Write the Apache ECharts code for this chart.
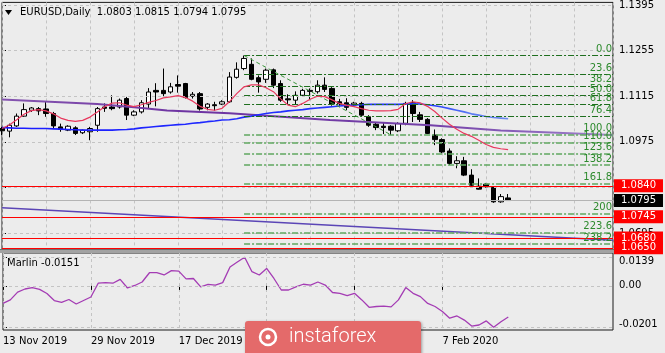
<!DOCTYPE html>
<html>
<head>
<meta charset="utf-8">
<title>EURUSD, Daily</title>
<script src="https://cdn.jsdelivr.net/npm/echarts@6/dist/echarts.min.js"></script>
<style>
  html, body { margin: 0; padding: 0; background: #ececec; }
  #chart { width: 665px; height: 353px; }
</style>
</head>
<body>
<div id="chart"></div>
<script>
// trading days shown on the chart
const dates = [
  '13 Nov 2019', '14 Nov 2019', '15 Nov 2019', '18 Nov 2019', '19 Nov 2019', '20 Nov 2019', '21 Nov 2019', '22 Nov 2019',
  '25 Nov 2019', '26 Nov 2019', '27 Nov 2019', '28 Nov 2019', '29 Nov 2019', '2 Dec 2019', '3 Dec 2019', '4 Dec 2019',
  '5 Dec 2019', '6 Dec 2019', '9 Dec 2019', '10 Dec 2019', '11 Dec 2019', '12 Dec 2019', '13 Dec 2019', '16 Dec 2019',
  '17 Dec 2019', '18 Dec 2019', '19 Dec 2019', '20 Dec 2019', '23 Dec 2019', '24 Dec 2019', '26 Dec 2019', '27 Dec 2019',
  '30 Dec 2019', '31 Dec 2019', '2 Jan 2020', '3 Jan 2020', '6 Jan 2020', '7 Jan 2020', '8 Jan 2020', '9 Jan 2020',
  '10 Jan 2020', '13 Jan 2020', '14 Jan 2020', '15 Jan 2020', '16 Jan 2020', '17 Jan 2020', '20 Jan 2020', '21 Jan 2020',
  '22 Jan 2020', '23 Jan 2020', '24 Jan 2020', '27 Jan 2020', '28 Jan 2020', '29 Jan 2020', '30 Jan 2020', '31 Jan 2020',
  '3 Feb 2020', '4 Feb 2020', '5 Feb 2020', '6 Feb 2020', '7 Feb 2020', '10 Feb 2020', '11 Feb 2020', '12 Feb 2020',
  '13 Feb 2020', '14 Feb 2020', '17 Feb 2020', '18 Feb 2020', '19 Feb 2020', '20 Feb 2020'
];

// [open, close, low, high]
const candles = [
  [1.1016, 1.1009, 1.0996, 1.1021], [1.1008, 1.1026, 1.0989, 1.1031], [1.1024, 1.1054, 1.1021, 1.1062],
  [1.1054, 1.1074, 1.1052, 1.1093], [1.1072, 1.1079, 1.1067, 1.1082], [1.1077, 1.1070, 1.1057, 1.1082],
  [1.1076, 1.1062, 1.1052, 1.1098], [1.1062, 1.1024, 1.1016, 1.1067], [1.1021, 1.1013, 1.1006, 1.1031],
  [1.1011, 1.1023, 1.1008, 1.1026], [1.1018, 1.1001, 1.0996, 1.1023], [1.1003, 1.1011, 1.0999, 1.1013],
  [1.1006, 1.1016, 1.0980, 1.1021], [1.1026, 1.1077, 1.1006, 1.1082], [1.1082, 1.1078, 1.1067, 1.1093],
  [1.1082, 1.1077, 1.1072, 1.1118], [1.1082, 1.1103, 1.1077, 1.1108], [1.1108, 1.1057, 1.1042, 1.1113],
  [1.1057, 1.1067, 1.1054, 1.1072], [1.1067, 1.1095, 1.1062, 1.1103], [1.1091, 1.1128, 1.1078, 1.1140],
  [1.1133, 1.1128, 1.1084, 1.1155], [1.1133, 1.1123, 1.1115, 1.1200], [1.1128, 1.1144, 1.1123, 1.1156],
  [1.1151, 1.1146, 1.1126, 1.1179], [1.1154, 1.1111, 1.1108, 1.1156], [1.1115, 1.1121, 1.1108, 1.1128],
  [1.1123, 1.1076, 1.1071, 1.1128], [1.1081, 1.1091, 1.1072, 1.1094], [1.1089, 1.1086, 1.1071, 1.1098],
  [1.1091, 1.1098, 1.1088, 1.1103], [1.1098, 1.1174, 1.1095, 1.1189], [1.1173, 1.1198, 1.1169, 1.1219],
  [1.1200, 1.1231, 1.1195, 1.1240], [1.1213, 1.1167, 1.1164, 1.1231], [1.1172, 1.1159, 1.1126, 1.1179],
  [1.1167, 1.1195, 1.1156, 1.1200], [1.1196, 1.1149, 1.1140, 1.1200], [1.1154, 1.1103, 1.1098, 1.1164],
  [1.1107, 1.1104, 1.1089, 1.1121], [1.1103, 1.1118, 1.1091, 1.1130], [1.1118, 1.1133, 1.1114, 1.1138],
  [1.1133, 1.1130, 1.1103, 1.1139], [1.1129, 1.1149, 1.1123, 1.1164], [1.1149, 1.1136, 1.1128, 1.1173],
  [1.1139, 1.1091, 1.1086, 1.1143], [1.1098, 1.1092, 1.1084, 1.1107], [1.1095, 1.1081, 1.1072, 1.1109],
  [1.1088, 1.1094, 1.1082, 1.1098], [1.1093, 1.1057, 1.1052, 1.1098], [1.1052, 1.1026, 1.1021, 1.1057],
  [1.1029, 1.1019, 1.1011, 1.1035], [1.1023, 1.1019, 1.0999, 1.1036], [1.1023, 1.1011, 1.0996, 1.1026],
  [1.1009, 1.1031, 1.1005, 1.1035], [1.1032, 1.1093, 1.1026, 1.1098], [1.1095, 1.1062, 1.1036, 1.1103],
  [1.1058, 1.1044, 1.1036, 1.1067], [1.1044, 1.1001, 1.0999, 1.1048], [1.0996, 1.0982, 1.0965, 1.1013],
  [1.0982, 1.0944, 1.0940, 1.0986], [1.0947, 1.0909, 1.0904, 1.0955], [1.0909, 1.0917, 1.0894, 1.0931],
  [1.0917, 1.0873, 1.0870, 1.0929], [1.0873, 1.0842, 1.0839, 1.0891], [1.0839, 1.0830, 1.0829, 1.0863],
  [1.0845, 1.0837, 1.0835, 1.0849], [1.0835, 1.0791, 1.0788, 1.0839], [1.0791, 1.0807, 1.0788, 1.0815],
  [1.0803, 1.0795, 1.0794, 1.0815]
];

// moving averages
const maRed = [
  1.1016, 1.1027, 1.1043, 1.1060, 1.1071, 1.1074, 1.1070, 1.1061, 1.1048, 1.1041,
  1.1038, 1.1041, 1.1051, 1.1067, 1.1083, 1.1094, 1.1095, 1.1088, 1.1083, 1.1089,
  1.1096, 1.1102, 1.1110, 1.1113, 1.1117, 1.1111, 1.1100, 1.1084, 1.1075, 1.1072,
  1.1078, 1.1098, 1.1123, 1.1144, 1.1150, 1.1150, 1.1141, 1.1129, 1.1107, 1.1088,
  1.1083, 1.1093, 1.1106, 1.1115, 1.1114, 1.1104, 1.1093, 1.1087, 1.1083, 1.1077,
  1.1072, 1.1070, 1.1070, 1.1071, 1.1075, 1.1092, 1.1098, 1.1095, 1.1084, 1.1068,
  1.1048, 1.1029, 1.1014, 1.1001, 1.0992, 1.0980, 1.0967, 1.0958, 1.0954, 1.0951
];
const maBlue = [
  1.1019, 1.1018, 1.1017, 1.1017, 1.1016, 1.1016, 1.1016, 1.1015, 1.1014, 1.1013,
  1.1012, 1.1011, 1.1011, 1.1011, 1.1011, 1.1011, 1.1012, 1.1013, 1.1015, 1.1018,
  1.1020, 1.1022, 1.1024, 1.1026, 1.1028, 1.1029, 1.1032, 1.1034, 1.1037, 1.1039,
  1.1042, 1.1043, 1.1046, 1.1051, 1.1054, 1.1058, 1.1062, 1.1065, 1.1067, 1.1070,
  1.1072, 1.1074, 1.1077, 1.1079, 1.1081, 1.1083, 1.1085, 1.1087, 1.1088, 1.1089,
  1.1090, 1.1090, 1.1090, 1.1090, 1.1090, 1.1091, 1.1092, 1.1091, 1.1089, 1.1086,
  1.1082, 1.1077, 1.1072, 1.1067, 1.1061, 1.1057, 1.1053, 1.1050, 1.1048, 1.1046
];

// trend lines, [bar, price]
const purpleLine = [[0, 1.1105], [13, 1.1091], [18, 1.1081], [22.5, 1.1071], [31, 1.1063],
  [44.7, 1.1042], [58.4, 1.1026], [68, 1.1010], [83.3, 1.0996]];
const channelLine = [[0, 1.0773], [83.3, 1.0673]];

// Marlin oscillator
const marlin = [
  -0.0085, -0.0068, -0.0030, -0.0015, -0.0008, -0.0017, -0.0037, -0.0071, -0.0080, -0.0066,
  -0.0088, -0.0071, -0.0054, 0.0013, 0.0016, 0.0013, 0.0032, -0.0010, 0.0002, 0.0019,
  0.0064, 0.0064, 0.0053, 0.0074, 0.0072, 0.0034, 0.0036, -0.0005, 0.0007, 0.0004,
  0.0016, 0.0092, 0.0116, 0.0139, 0.0069, 0.0053, 0.0085, 0.0036, -0.0020, -0.0020,
  -0.0005, 0.0008, 0.0004, 0.0019, 0.0004, -0.0032, -0.0036, -0.0047, -0.0036, -0.0068,
  -0.0104, -0.0100, -0.0098, -0.0102, -0.0068, -0.0008, -0.0036, -0.0052, -0.0085, -0.0100,
  -0.0124, -0.0157, -0.0146, -0.0166, -0.0195, -0.0190, -0.0170, -0.0201, -0.0174, -0.0151
];

// fibonacci grid
const fibHigh = 1.1240;
const fibLow = 1.0997;
const fibFrom = 33;
const fibTo = 53;
const fibLevels = [0, 23.6, 38.2, 50, 61.8, 76.4, 100, 110, 123.6, 138.2, 161.8, 200, 223.6, 238.2];
const fibLabels = ['0.0', '23.6', '38.2', '50.0', '61.8', '76.4', '100.0', '110.0', '123.6', '138.2', '161.8', '200', '223.6', '238.2'];

const priceTicks = [1.1395, 1.1255, 1.1115, 1.0975, 1.0835, 1.0695];
const marlinTicks = [0.0139, 0, -0.0201];
const dateTicks = [0, 12, 24, 36, 48, 60];
const redLevels = [1.0840, 1.0745, 1.0680, 1.0650];
const lastPrice = 1.0795;

const FONT = 'DejaVu Sans';
const X_MAX = 83.3;
const gridDash = { color: '#c4c4c4', type: [3, 3], width: 1 };

const chart = echarts.init(document.getElementById('chart'));

const last = candles[candles.length - 1];
const fibPrice = lvl => fibHigh - (fibHigh - fibLow) * lvl / 100;

// one helper series per horizontal level, tag drawn at the right end
function levelSeries(value, lineColor, tagColor, z) {
  return {
    type: 'line', xAxisIndex: 0, yAxisIndex: 0, data: [], z: z,
    markLine: {
      silent: true, symbol: ['none', 'none'], animation: false, precision: 6,
      lineStyle: { color: lineColor, width: 1, type: 'solid' },
      label: {
        show: true, position: 'end', distance: 1, formatter: value.toFixed(4),
        color: '#fff', backgroundColor: tagColor, padding: [2, 7, 1, 7],
        fontSize: 10, lineHeight: 10, fontFamily: FONT
      },
      data: [{ yAxis: value }]
    }
  };
}

const fibData = fibLevels.map((lvl, i) => {
  const p = fibPrice(lvl);
  const light = lvl >= 100;
  return [
    {
      coord: [fibFrom, p],
      lineStyle: { color: light ? '#5fa65f' : '#1e6e1e', width: light ? 1.6 : 1, type: [6, 2, 2, 2] },
      label: {
        show: true, position: 'insideEndTop', distance: 1, formatter: fibLabels[i],
        color: '#2d8a2d', fontSize: 10, fontFamily: FONT
      }
    },
    { coord: [X_MAX, p] }
  ];
});
fibData.push([
  { coord: [fibFrom, fibHigh], lineStyle: { color: '#3c963c', width: 1, type: [4, 3] }, label: { show: false } },
  { coord: [fibTo, fibLow] }
]);

const series = [
  {
    name: 'grid', type: 'line', xAxisIndex: 0, yAxisIndex: 0, data: [], z: 1,
    markLine: {
      silent: true, symbol: ['none', 'none'], animation: false, precision: 6,
      label: { show: false }, lineStyle: gridDash,
      data: priceTicks.map(v => ({ yAxis: v }))
    }
  },
  {
    name: 'grid2', type: 'line', xAxisIndex: 1, yAxisIndex: 1, data: [], z: 1,
    markLine: {
      silent: true, symbol: ['none', 'none'], animation: false, precision: 6,
      label: { show: false }, lineStyle: gridDash,
      data: marlinTicks.map(v => ({ yAxis: v }))
    }
  },
  {
    name: 'fibo', type: 'line', xAxisIndex: 0, yAxisIndex: 0, data: [], z: 2,
    markLine: { silent: true, symbol: ['none', 'none'], animation: false, precision: 6, data: fibData }
  },
  {
    name: 'candles', type: 'candlestick', xAxisIndex: 0, yAxisIndex: 0, z: 3,
    barWidth: 5,
    dimensions: ['idx', 'open', 'close', 'lowest', 'highest'],
    encode: { x: 'idx', y: ['open', 'close', 'lowest', 'highest'] },
    data: candles.map((c, i) => [i, c[0], c[1], c[2], c[3]]),
    itemStyle: { color: '#ffffff', color0: '#000000', borderColor: '#000000', borderColor0: '#000000', borderWidth: 1 }
  },
  {
    name: 'purple', type: 'line', xAxisIndex: 0, yAxisIndex: 0, z: 4, showSymbol: false, silent: true,
    data: purpleLine,
    lineStyle: {
      width: 2,
      color: new echarts.graphic.LinearGradient(0, 0, 1, 0, [
        { offset: 0, color: '#8656b0' }, { offset: 0.3, color: '#6e34a2' },
        { offset: 0.7, color: '#7440a8' }, { offset: 1, color: '#a084cc' }
      ])
    }
  },
  {
    name: 'channel', type: 'line', xAxisIndex: 0, yAxisIndex: 0, z: 4, showSymbol: false, silent: true,
    data: channelLine,
    lineStyle: { width: 1.5, color: '#5b45b6' }
  },
  {
    name: 'ma slow', type: 'line', xAxisIndex: 0, yAxisIndex: 0, z: 4, showSymbol: false, silent: true,
    data: maBlue.map((v, i) => [i, v]),
    lineStyle: {
      width: 1.6,
      color: new echarts.graphic.LinearGradient(0, 0, 1, 0, [
        { offset: 0, color: '#1a1aff' }, { offset: 0.84, color: '#2438ff' },
        { offset: 0.92, color: '#5878f2' }, { offset: 1, color: '#6e8cee' }
      ])
    }
  },
  {
    name: 'ma fast', type: 'line', xAxisIndex: 0, yAxisIndex: 0, z: 5, showSymbol: false, silent: true,
    data: maRed.map((v, i) => [i, v]),
    lineStyle: { width: 1.2, color: '#e8385e' }
  },
  {
    name: 'Marlin', type: 'line', xAxisIndex: 1, yAxisIndex: 1, z: 4, showSymbol: false, silent: true,
    data: marlin.map((v, i) => [i, v]),
    lineStyle: { width: 1.3, color: '#a43cb4' }
  },
  levelSeries(lastPrice, '#b4b4b4', '#000000', 6)
].concat(redLevels.map((v, i) => levelSeries(v, '#ff0000', '#ff0000', 7 + i)));

const option = {
  animation: false,
  backgroundColor: '#ececec',
  textStyle: { fontFamily: FONT },
  grid: [
    { left: 2, top: 2, width: 611, height: 247, show: true, borderColor: '#1a1a1a', borderWidth: 1, backgroundColor: 'transparent' },
    { left: 2, top: 253, width: 611, height: 77, show: true, borderColor: '#1a1a1a', borderWidth: 1, backgroundColor: 'transparent' }
  ],
  xAxis: [
    {
      type: 'value', gridIndex: 0, min: 0, max: X_MAX, interval: 6,
      axisLine: { show: false }, axisTick: { show: false }, axisLabel: { show: false },
      splitLine: { show: true, lineStyle: gridDash }
    },
    {
      type: 'value', gridIndex: 1, min: 0, max: X_MAX, interval: 6,
      axisLine: { show: false },
      axisTick: { show: true, customValues: dateTicks, length: 4, lineStyle: { color: '#000' } },
      axisLabel: {
        customValues: dateTicks, formatter: v => dates[Math.round(v)] || '',
        align: 'left', margin: 6, color: '#000', fontSize: 10, fontFamily: FONT
      },
      splitLine: { show: true, lineStyle: gridDash }
    }
  ],
  yAxis: [
    {
      type: 'value', gridIndex: 0, position: 'right', min: 1.06463, max: 1.1403,
      axisLine: { show: false }, splitLine: { show: false },
      axisTick: { show: true, customValues: priceTicks, length: 4, lineStyle: { color: '#000' } },
      axisLabel: { customValues: priceTicks, formatter: v => v.toFixed(4), margin: 6, color: '#000', fontSize: 10, fontFamily: FONT }
    },
    {
      type: 'value', gridIndex: 1, position: 'right', min: -0.02142, max: 0.01598,
      axisLine: { show: false }, splitLine: { show: false },
      axisTick: { show: true, customValues: marlinTicks, length: 4, lineStyle: { color: '#000' } },
      axisLabel: {
        customValues: marlinTicks, margin: 6, color: '#000', fontSize: 10, fontFamily: FONT,
        formatter: v => v > 0 ? '{t|' + v.toFixed(4) + '}' : (v < 0 ? '{b|' + v.toFixed(4) + '}' : '0.00'),
        rich: {
          t: { padding: [9, 0, 0, 0], color: '#000', fontSize: 10, fontFamily: FONT },
          b: { padding: [0, 0, 6, 0], color: '#000', fontSize: 10, fontFamily: FONT }
        }
      }
    }
  ],
  series: series,
  graphic: [
    { type: 'polygon', shape: { points: [[5, 10], [12, 10], [8.5, 15]] }, style: { fill: '#000' }, z: 10 },
    {
      type: 'text', x: 20, y: 12, z: 10,
      style: {
        text: 'EURUSD,Daily  ' + [last[0], last[3], last[2], last[1]].map(v => v.toFixed(4)).join(' '),
        fill: '#000', font: '10px "DejaVu Sans"', verticalAlign: 'middle'
      }
    },
    {
      type: 'text', x: 7, y: 263, z: 10,
      style: { text: 'Marlin ' + marlin[marlin.length - 1].toFixed(4), fill: '#000', font: '10px "DejaVu Sans"', verticalAlign: 'middle' }
    },
    { type: 'rect', shape: { x: 0, y: 249, width: 614, height: 4 }, style: { fill: '#a2a2a2' }, z: 10 },
    { type: 'line', shape: { x1: 0, y1: 249.5, x2: 614, y2: 249.5 }, style: { stroke: '#6e6e6e', lineWidth: 1 }, z: 11 },
    {
      type: 'rect', z: 100, zlevel: 1, shape: { x: 245, y: 321, width: 176, height: 36, r: 3 },
      style: { fill: '#e46a6a', shadowBlur: 3, shadowOffsetX: 1, shadowOffsetY: 1, shadowColor: 'rgba(0,0,0,0.35)' }
    },
    { type: 'circle', z: 101, zlevel: 1, shape: { cx: 268, cy: 337, r: 8 }, style: { fill: 'none', stroke: '#ffffff', lineWidth: 2.5 } },
    { type: 'circle', z: 101, zlevel: 1, shape: { cx: 268, cy: 337, r: 2.5 }, style: { fill: '#ffffff' } },
    {
      type: 'text', z: 101, zlevel: 1, x: 289, y: 337,
      style: { text: 'instaforex', fill: '#ffffff', font: '300 20px Roboto', verticalAlign: 'middle' }
    }
  ]
};

chart.setOption(option);
</script>
</body>
</html>
